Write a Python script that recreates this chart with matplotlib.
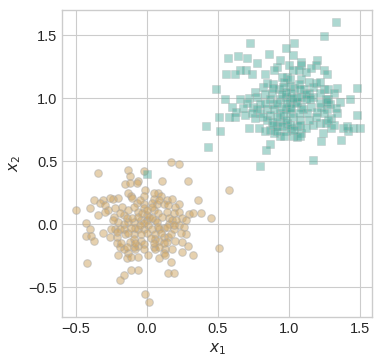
import matplotlib
matplotlib.use("Agg")
import matplotlib.pyplot as plt
import numpy as np

# class 0 (circles)
x_circ = [0.17, 0.23, -0.02, -0.13, -0.34, 0.29, -0.06, -0.12, 0.11, -0.15,
          -0.07, -0.12, -0.01, 0.58, 0.08, 0.10, -0.13, -0.11, 0.14, 0.18,
          0.05, -0.20, -0.24, -0.26, -0.31, -0.33, -0.37, -0.10, 0.36, 0.23,
          0.20, 0.04, 0.07, -0.02, -0.07, 0.12, 0.15, -0.17, -0.29, -0.22,
          -0.27, -0.29, -0.34, -0.40, -0.50, -0.13, -0.06, -0.02, 0.05, 0.08,
          0.14, 0.19, 0.23, 0.30, 0.33, 0.38, 0.45, 0.25, 0.16, 0.11,
          0.02, 0.06, 0.00, -0.04, -0.09, -0.13, -0.16, -0.20, -0.23, -0.43,
          -0.40, -0.43, -0.39, -0.37, -0.26, -0.22, -0.21, -0.21, -0.19, -0.20,
          -0.13, -0.14, -0.11, -0.08, -0.06, -0.04, -0.12, -0.15, -0.09, -0.06,
          -0.02, 0.01, 0.04, 0.06, 0.06, 0.05, 0.06, 0.09, 0.12, 0.15,
          0.14, 0.17, 0.19, 0.23, 0.26, 0.28, 0.24, 0.20, 0.18, 0.13,
          0.12, 0.09, 0.13, 0.25, 0.29, 0.25, 0.33, 0.17, 0.15, 0.19,
          -0.06, -0.11, -0.16, -0.19, -0.42, 0.51, -0.01, 0.02, 0.00, 0.04,
          -0.02, -0.05, -0.08, 0.09, 0.12, 0.16, 0.07, 0.08, 0.00, 0.03,
          -0.02, -0.09, -0.16, -0.13, -0.11, -0.19, -0.25, -0.21, -0.31, 0.14,
          0.18, 0.21, 0.28, 0.19, 0.10, 0.12, 0.09, 0.05, -0.02, 0.01,
          -0.06, -0.09, -0.16, -0.18, -0.14, -0.08, -0.04, -0.02, 0.04, 0.05,
          0.09, -0.05, -0.09, -0.16, -0.19, -0.24, -0.14, -0.10, -0.06, -0.03,
          0.00]
y_circ = [0.49, 0.48, 0.42, 0.43, 0.41, 0.34, 0.34, 0.38, 0.34, 0.32,
          0.33, 0.33, 0.27, 0.27, 0.25, 0.22, 0.25, 0.22, 0.19, 0.20,
          0.20, 0.21, 0.20, 0.21, 0.19, 0.17, 0.19, 0.21, 0.19, 0.16,
          0.14, 0.17, 0.16, 0.16, 0.17, 0.16, 0.15, 0.14, 0.15, 0.13,
          0.11, 0.10, 0.07, 0.13, 0.11, 0.11, 0.10, 0.13, 0.11, 0.09,
          0.10, 0.09, 0.10, 0.08, 0.09, 0.09, 0.05, 0.05, 0.05, 0.06,
          0.06, 0.03, 0.03, 0.03, 0.02, 0.02, 0.00, 0.02, 0.06, 0.01,
          -0.04, -0.09, -0.09, -0.13, -0.10, -0.04, -0.10, -0.15, -0.18, -0.24,
          -0.23, -0.27, -0.26, -0.20, -0.17, -0.13, -0.14, -0.08, -0.08, -0.04,
          -0.04, -0.01, -0.04, -0.08, -0.12, -0.18, -0.20, -0.13, -0.10, -0.10,
          -0.14, -0.08, -0.04, -0.01, -0.02, -0.08, -0.07, -0.13, -0.20, -0.20,
          -0.23, -0.27, -0.24, -0.14, -0.17, -0.22, -0.24, -0.30, -0.39, -0.39,
          -0.36, -0.36, -0.40, -0.44, -0.31, -0.19, -0.55, -0.62, 0.07, 0.05,
          0.01, -0.01, -0.03, -0.04, -0.03, 0.00, 0.02, -0.02, -0.07, -0.11,
          -0.16, -0.12, -0.04, -0.07, -0.03, -0.04, -0.04, -0.06, -0.07, -0.02,
          0.03, 0.03, 0.03, -0.01, -0.07, -0.15, -0.18, -0.15, -0.20, -0.24,
          -0.26, -0.18, -0.20, -0.15, -0.18, -0.15, -0.08, 0.22, 0.14, 0.25,
          0.19, 0.19, 0.14, 0.07, 0.09, 0.03, 0.05, 0.05, 0.06, 0.09,
          0.11]

# class 1 (squares)
x_sq = [1.33, 1.25, 0.73, 1.04, 0.98, 0.86, 0.64, 0.57, 0.71, 0.78,
        0.94, 1.03, 1.09, 1.20, 1.19, 1.09, 1.00, 0.92, 0.90, 0.83,
        0.74, 0.70, 0.66, 0.62, 0.56, 1.25, 1.27, 1.16, 1.12, 1.07,
        1.03, 0.99, 0.95, 1.01, 0.97, 1.09, 1.14, 1.17, 1.25, 1.28,
        1.34, 1.48, 0.49, 0.55, 0.66, 0.72, 0.76, 0.82, 0.85, 0.89,
        0.93, 0.88, 0.83, 0.78, 0.96, 1.01, 1.04, 1.07, 1.11, 1.14,
        1.17, 1.22, 1.28, 1.36, 1.43, 1.32, 1.50, 1.48, 1.42, 1.37,
        1.38, 1.30, 1.30, 1.27, 1.23, 1.25, 1.22, 1.24, 1.17, 1.14,
        1.13, 1.09, 1.06, 1.01, 0.98, 0.94, 0.89, 0.85, 0.80, 0.75,
        0.71, 0.68, 0.60, 0.63, 0.58, 0.62, 0.69, 0.51, 0.52, 0.42,
        0.43, 0.72, 0.79, 0.83, 0.87, 0.92, 0.94, 0.99, 1.02, 1.06,
        1.09, 1.03, 0.98, 0.94, 0.90, 0.87, 0.84, 0.80, 0.97, 1.06,
        1.17, 1.23, 1.05, 1.01, 0.98, 0.94, 0.90, 0.87, 0.85, 0.88,
        0.92, 0.96, 1.01, 1.03, 1.08, 1.10, 1.07, 1.02, 0.99, 0.95,
        0.92, 0.87, 0.83, 0.80, 0.78, 0.82, 0.76, 0.74, 0.89, 1.09,
        1.16, 1.20, 1.19, 1.12, 1.06, 1.02, 0.98, 0.95, 1.03, 1.08,
        1.12, 1.15, 1.22, 1.26, 1.29, 1.19, 1.22, 1.41, 1.45, 1.32,
        1.26, 1.28, 1.34, 1.33, 1.27, 1.08, 1.12, 1.01, 0.98, 0.95,
        0.92, 0.89, 1.08, 1.04, 0.00]
y_sq = [1.60, 1.49, 1.44, 1.44, 1.40, 1.35, 1.33, 1.32, 1.32, 1.28,
        1.30, 1.34, 1.29, 1.30, 1.26, 1.26, 1.26, 1.25, 1.22, 1.19,
        1.19, 1.22, 1.22, 1.19, 1.19, 1.22, 1.19, 1.24, 1.21, 1.22,
        1.22, 1.17, 1.17, 1.15, 1.13, 1.15, 1.13, 1.09, 1.07, 1.07,
        1.08, 1.08, 1.07, 0.99, 0.99, 1.00, 1.05, 1.09, 1.12, 1.11,
        1.07, 1.04, 1.03, 1.01, 1.09, 1.10, 1.08, 1.11, 1.07, 1.04,
        1.01, 1.04, 0.99, 0.97, 0.99, 1.04, 0.76, 0.87, 0.74, 0.67,
        0.76, 0.76, 0.84, 0.91, 0.93, 0.88, 0.80, 0.72, 0.79, 0.83,
        0.88, 0.93, 0.97, 0.99, 1.01, 0.99, 0.95, 0.91, 0.88, 0.93,
        0.96, 0.92, 0.93, 0.89, 0.85, 0.85, 0.87, 0.85, 0.74, 0.78,
        0.61, 0.76, 0.76, 0.74, 0.75, 0.78, 0.81, 0.80, 0.76, 0.78,
        0.72, 0.70, 0.74, 0.70, 0.72, 0.64, 0.59, 0.46, 0.70, 0.69,
        0.51, 0.66, 0.96, 0.93, 0.91, 0.88, 0.91, 0.87, 0.83, 0.81,
        0.85, 0.87, 0.88, 0.85, 0.83, 0.91, 0.88, 0.92, 0.96, 0.93,
        0.96, 0.99, 0.96, 0.95, 0.91, 0.85, 0.84, 0.88, 0.79, 1.01,
        0.93, 0.89, 0.85, 0.99, 1.01, 1.04, 1.05, 1.03, 1.00, 1.07,
        1.03, 0.99, 0.96, 0.99, 0.95, 1.12, 1.13, 0.78, 0.76, 0.79,
        0.80, 0.83, 0.88, 0.92, 0.97, 0.79, 0.76, 0.79, 0.83, 0.78,
        0.74, 1.08, 0.70, 0.75, 0.40]

plt.style.use('seaborn-v0_8-whitegrid')

fig = plt.figure(figsize=(3.82, 3.64), dpi=100)
ax = fig.add_axes([0.163, 0.130, 0.812, 0.843])

ax.scatter(x_circ, y_circ, marker='o', s=30, c='#cfa560', alpha=0.5,
           edgecolors='#a8a8a8', linewidths=0.8)
ax.scatter(x_sq, y_sq, marker='s', s=28, c='#4aaa9a', alpha=0.45,
           edgecolors='#b0b0b0', linewidths=0.5)

ax.set_xlim(-0.594, 1.59)
ax.set_ylim(-0.733, 1.70)
ax.set_xticks(np.arange(-0.5, 1.51, 0.5))
ax.set_yticks(np.arange(-0.5, 1.51, 0.5))
ax.tick_params(labelsize=10.5)
ax.set_xlabel('$x_1$', fontsize=11)
ax.set_ylabel('$x_2$', fontsize=11)
for s in ax.spines.values():
    s.set_visible(True)
    s.set_color('#cccccc')

fig.savefig('out.png', dpi=100)
